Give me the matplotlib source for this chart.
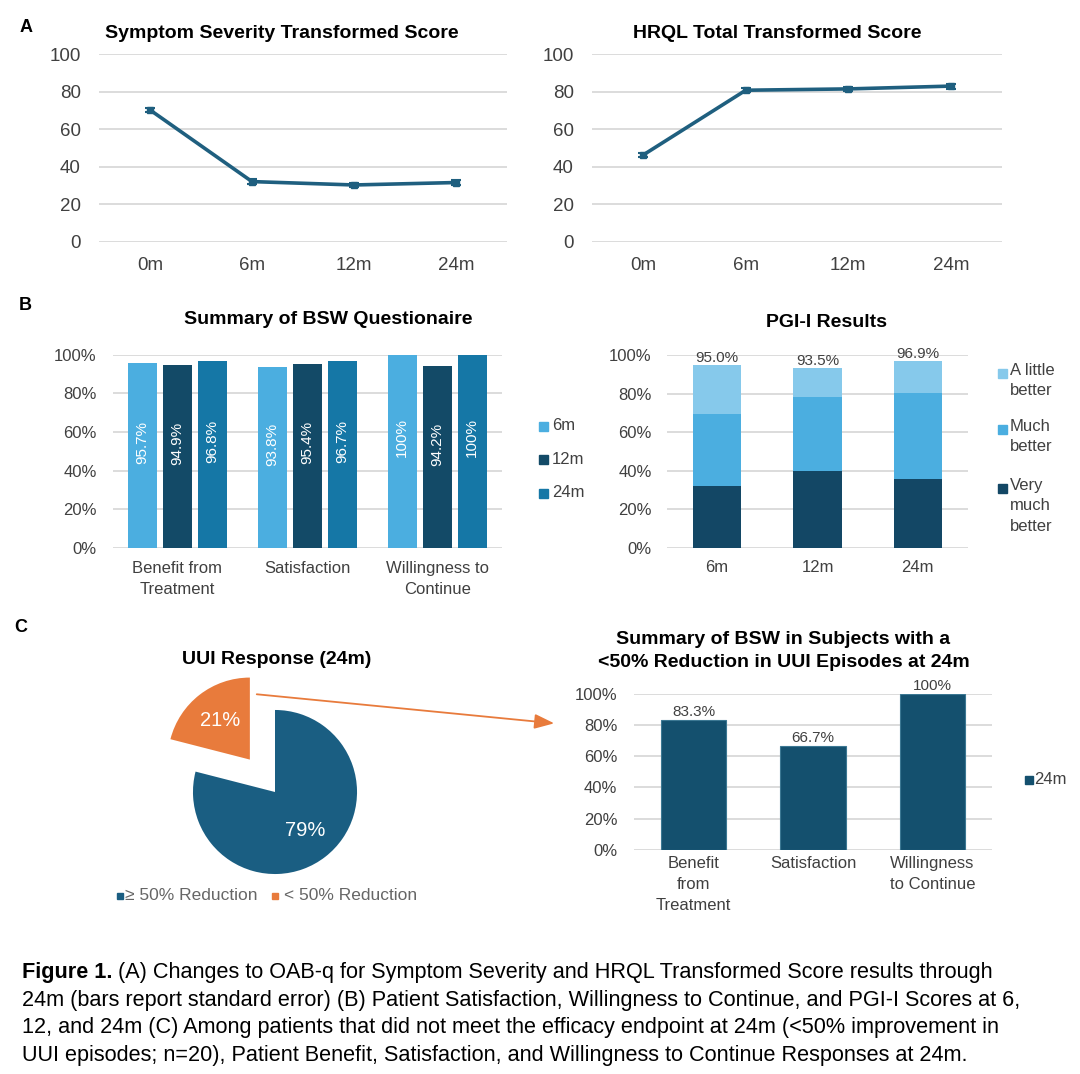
import numpy as np
import matplotlib
matplotlib.use("Agg")
import matplotlib.pyplot as plt
from matplotlib.patches import Rectangle, FancyArrowPatch
from matplotlib.ticker import PercentFormatter

plt.rcParams['font.family'] = ['Liberation Sans', 'DejaVu Sans']

# --- Data ---
visits = ["0m", "6m", "12m", "24m"]
symptom_score = [70.4, 32.2, 30.4, 31.7]
symptom_se = [1.2, 1.3, 1.2, 1.4]
hrql_score = [46.4, 80.9, 81.6, 83.1]
hrql_se = [1.3, 1.2, 1.2, 1.3]

bsw_items = ["Benefit from\nTreatment", "Satisfaction", "Willingness to\nContinue"]
bsw_6m = [95.7, 93.8, 100.0]
bsw_12m = [94.9, 95.4, 94.2]
bsw_24m = [96.8, 96.7, 100.0]

pgi_visits = ["6m", "12m", "24m"]
pgi_very_much = [32.0, 40.0, 35.8]
pgi_much = [37.5, 38.1, 44.5]
pgi_little = [25.5, 15.4, 16.6]

uui_labels = ["\u2265 50% Reduction", "< 50% Reduction"]
uui_share = [79, 21]

nonresp_items = ["Benefit\nfrom\nTreatment", "Satisfaction", "Willingness\nto Continue"]
nonresp_24m = [83.3, 66.7, 100.0]

# --- Colours ---
LINE = "#1F5F7F"
GRID = "#D9D9D9"
TXT = "#404040"
C6, C12, C24 = "#4BAEE0", "#134A67", "#1577A6"
LITTLE, MUCH, VERY = "#86C9EB", "#4BAEE0", "#134765"
BLUE, ORANGE = "#1A5E82", "#E87B3C"
DARK = "#14506E"

W, H = 1080, 1074
fig = plt.figure(figsize=(W / 100, H / 100), dpi=100)


def px_box(l, t, r, b):
    return [l / W, 1 - b / H, (r - l) / W, (b - t) / H]


def ftext(x, y, s, **kw):
    return fig.text(x / W, 1 - y / H, s, **kw)


def key(x, y, color, sq=9):
    fig.add_artist(Rectangle((x / W, 1 - (y + sq / 2) / H), sq / W, sq / H,
                             transform=fig.transFigure, color=color))


def style(ax, size, ypad, xpad, xspacing=1.45):
    for s in ax.spines.values():
        s.set_visible(False)
    ax.grid(axis='y', color=GRID, linewidth=1.3)
    ax.set_axisbelow(True)
    ax.tick_params(length=0, labelsize=size, labelcolor=TXT)
    ax.tick_params(axis='y', pad=ypad)
    ax.tick_params(axis='x', pad=xpad)
    for t in ax.get_xticklabels():
        t.set_linespacing(xspacing)


def pct_label(v):
    return "100%" if v == 100 else f"{v:.1f}%"


# --- A: line charts ---
for box, vals, err, title, tx in [((99, 54.4, 507, 242), symptom_score, symptom_se,
                                   "Symptom Severity Transformed Score", 282),
                                  ((592, 54.4, 1002, 242), hrql_score, hrql_se,
                                   "HRQL Total Transformed Score", 777)]:
    ax = fig.add_axes(px_box(*box))
    x = np.arange(len(visits))
    ax.errorbar(x, vals, yerr=err, color=LINE, lw=2.6, marker='s', ms=4.5,
                capsize=3.5, capthick=1.5, elinewidth=1.5)
    ax.set_xlim(-0.5, len(visits) - 0.5)
    ax.set_ylim(0, 100)
    ax.set_yticks(range(0, 101, 20))
    ax.set_xticks(x, visits)
    style(ax, 13.5, 13, 11)
    ftext(tx, 33, title, fontsize=14, fontweight='bold', ha='center', va='center')

# --- B: BSW questionnaire ---
ax3 = fig.add_axes(px_box(112.5, 354.7, 502, 548))
x = np.arange(len(bsw_items))
bw = 0.223
for off, vals, col in [(-0.27, bsw_6m, C6), (0, bsw_12m, C12), (0.27, bsw_24m, C24)]:
    ax3.bar(x + off, vals, width=bw, color=col)
    for xi, v in zip(x + off, vals):
        ax3.text(xi, v * 0.57, pct_label(v), rotation=90, ha='center', va='center',
                 color='white', fontsize=11)
ax3.set_xlim(-0.5, len(bsw_items) - 0.5)
ax3.set_ylim(0, 100)
ax3.set_yticks(range(0, 101, 20))
ax3.yaxis.set_major_formatter(PercentFormatter(decimals=0))
ax3.set_xticks(x, bsw_items)
style(ax3, 12, 11.5, 9.5)
ftext(328, 320, "Summary of BSW Questionaire", fontsize=14, fontweight='bold',
      ha='center', va='center')
for yy, col, lab in [(426, C6, "6m"), (459, C12, "12m"), (493, C24, "24m")]:
    key(539, yy, col)
    ftext(552, yy, lab, fontsize=12, color=TXT, va='center')

# --- B: PGI-I ---
ax4 = fig.add_axes(px_box(667, 355.4, 968, 547.6))
x = np.arange(len(pgi_visits))
very = np.array(pgi_very_much)
much = np.array(pgi_much)
little = np.array(pgi_little)
ax4.bar(x, very, width=0.48, color=VERY)
ax4.bar(x, much, width=0.48, bottom=very, color=MUCH)
ax4.bar(x, little, width=0.48, bottom=very + much, color=LITTLE)
for xi, tot in zip(x, very + much + little):
    ax4.text(xi, tot, f"{tot:.1f}%", ha='center', va='bottom', fontsize=11, color=TXT)
ax4.set_xlim(-0.5, len(pgi_visits) - 0.5)
ax4.set_ylim(0, 100)
ax4.set_yticks(range(0, 101, 20))
ax4.yaxis.set_major_formatter(PercentFormatter(decimals=0))
ax4.set_xticks(x, pgi_visits)
style(ax4, 12, 11, 9)
ftext(827, 323, "PGI-I Results", fontsize=14, fontweight='bold', ha='center', va='center')
for yy, col, lab in [(373, LITTLE, "A little\nbetter"), (429, MUCH, "Much\nbetter"),
                     (488, VERY, "Very\nmuch\nbetter")]:
    key(998, yy, col)
    ftext(1010, yy - 10, lab, fontsize=12, color=TXT, va='top', linespacing=1.45)

# --- C: pie ---
ax5 = fig.add_axes(px_box(155, 672, 395, 912))
ax5.pie(uui_share, colors=[BLUE, ORANGE], explode=[0, 0.5], startangle=90,
        counterclock=False, autopct='%1.0f%%', pctdistance=0.6,
        textprops=dict(color='white', fontsize=14.5))
ax5.set_xlim(-1.463, 1.463)
ax5.set_ylim(-1.463, 1.463)
ax5.set_aspect('equal')
ftext(277, 660, "UUI Response (24m)", fontsize=14, fontweight='bold', ha='center', va='center')
key(117, 896, BLUE, sq=6)
ftext(125, 896, uui_labels[0], fontsize=12.5, color="#666666", va='center')
key(272, 896, ORANGE, sq=6)
ftext(284, 896, uui_labels[1], fontsize=12.5, color="#666666", va='center')

fig.add_artist(FancyArrowPatch((254 / W, 1 - 694 / H), (557 / W, 1 - 723.6 / H),
                               transform=fig.transFigure, color=ORANGE, lw=1.3,
                               arrowstyle='-|>,head_length=0.8,head_width=0.3',
                               mutation_scale=15))

# --- C: BSW among non-responders ---
ax6 = fig.add_axes(px_box(634, 693.7, 992, 850))
x = np.arange(len(nonresp_items))
ax6.bar(x, nonresp_24m, width=0.55, color=DARK, edgecolor="#3C7893", linewidth=0.8)
for xi, v in zip(x, nonresp_24m):
    ax6.text(xi, v + 0.5, pct_label(v), ha='center', va='bottom', fontsize=11, color=TXT)
ax6.set_xlim(-0.5, len(nonresp_items) - 0.5)
ax6.set_ylim(0, 100)
ax6.set_yticks(range(0, 101, 20))
ax6.yaxis.set_major_formatter(PercentFormatter(decimals=0))
ax6.set_xticks(x, nonresp_items)
style(ax6, 12, 12, 4.5, xspacing=1.5)
ftext(783.5, 651, "Summary of BSW in Subjects with a\n<50% Reduction in UUI Episodes at 24m",
      fontsize=14, fontweight='bold', ha='center', va='center', linespacing=1.4)
key(1025, 780, DARK, sq=8)
ftext(1034, 780, "24m", fontsize=12, color=TXT, va='center')

# --- panel letters ---
for lx, ly, s in [(26, 27, "A"), (25, 305, "B"), (21, 627, "C")]:
    ftext(lx, ly, s, fontsize=13, fontweight='bold', ha='center', va='center')

# --- caption ---
cap_lines = [
    " (A) Changes to OAB-q for Symptom Severity and HRQL Transformed Score results through",
    "24m (bars report standard error) (B) Patient Satisfaction, Willingness to Continue, and PGI-I Scores at 6,",
    "12, and 24m (C) Among patients that did not meet the efficacy endpoint at 24m (<50% improvement in",
    "UUI episodes; n=20), Patient Benefit, Satisfaction, and Willingness to Continue Responses at 24m.",
]
cap_size = 15.6
bold = ftext(22, 978, "Figure 1.", fontsize=cap_size, fontweight='bold', va='baseline')
fig.canvas.draw()
bx = bold.get_window_extent().x1
fig.text(bx / W, 1 - 978 / H, cap_lines[0], fontsize=cap_size, va='baseline')
for i, line in enumerate(cap_lines[1:]):
    ftext(22, 1006 + 27.5 * i, line, fontsize=cap_size, va='baseline')

fig.savefig("out.png", dpi=100, facecolor='white')
